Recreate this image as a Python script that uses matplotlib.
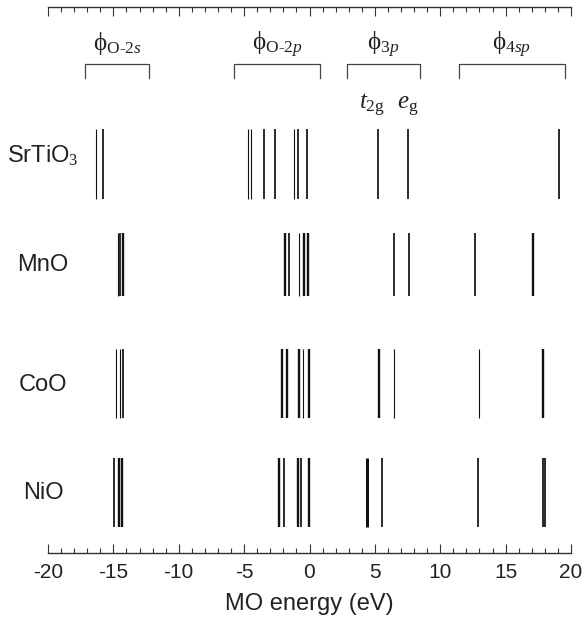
import numpy as np
import matplotlib
matplotlib.use("Agg")
from matplotlib import pyplot as plt
from matplotlib.ticker import MultipleLocator

plt.rcParams['font.family'] = ['Liberation Sans', 'DejaVu Sans']
plt.rcParams['mathtext.fontset'] = 'custom'
plt.rcParams['mathtext.rm'] = 'Liberation Serif'
plt.rcParams['mathtext.it'] = 'Liberation Serif:italic'
plt.rcParams['mathtext.fallback'] = 'stix'

# MO energies (eV) and relative degeneracy (drawn as line thickness)
compounds = ['SrTiO$_3$', 'MnO', 'CoO', 'NiO']

srtio3_e = [-16.33, -15.82, -4.68, -4.50, -3.46, -2.64, -1.19, -0.86, -0.21, 5.26, 7.51, 19.06]
srtio3_d = [1, 2, 1, 1, 2, 2, 1, 2, 2, 2, 2, 2]

mno_e = [-14.65, -14.47, -14.24, -1.87, -1.54, -0.78, -0.42, -0.09, 6.46, 7.61, 12.66, 17.12]
mno_d = [1, 2, 3, 3, 2, 1, 3, 3, 2, 2, 2, 3]

coo_e = [-14.82, -14.47, -14.29, -2.10, -1.72, -0.83, -0.52, -0.06, 5.34, 6.49, 12.96, 17.83]
coo_d = [1, 1, 2, 3, 3, 3, 1, 3, 3, 1, 1, 3]

nio_e = [-14.98, -14.55, -14.32, -2.33, -1.93, -0.88, -0.65, -0.06, 4.37, 5.55, 12.86, 17.86, 18.04]
nio_d = [2, 3, 3, 3, 2, 3, 2, 3, 4, 2, 2, 2, 2]

energies = [srtio3_e, mno_e, coo_e, nio_e]
degen = [srtio3_d, mno_d, coo_d, nio_d]

# orbital groups: label, energy range
groups = [r'$\mathrm{\phi}_{\mathrm{O}\text{-}\mathrm{2}s}$',
          r'$\mathrm{\phi}_{\mathrm{O}\text{-}\mathrm{2}p}$',
          r'$\mathrm{\phi}_{\mathrm{3}p}$',
          r'$\mathrm{\phi}_{\mathrm{4}sp}$']
group_lo = [-17.2, -5.74, 2.84, 11.45]
group_hi = [-12.24, 0.79, 8.47, 19.53]

sub_labels = [r'$t_{\mathrm{2g}}$', r'$e_{\mathrm{g}}$']
sub_pos = [4.75, 7.5]

W, H = 584, 624
fig = plt.figure(figsize=(W / 100, H / 100), dpi=100)
top, bot, left, right = 7, 553, 48, 571
ax = fig.add_axes([left / W, 1 - bot / H, (right - left) / W, (bot - top) / H])
ax.set_xlim(-20, 20)
ax.set_ylim(bot, top)  # vertical layout in pixel rows

# row vertical extents
row_top = [129, 233, 349, 458]
row_bot = [199, 296, 418, 527]
label_base = [163, 271, 391, 499]

for i in range(len(compounds)):
    for e, d in zip(energies[i], degen[i]):
        ax.vlines(e, row_top[i], row_bot[i], color='#111111', lw=0.35 + 0.45 * d)
    ax.text(-20.38, label_base[i], compounds[i], ha='center', va='baseline',
            fontsize=17, color='#222222', clip_on=False)

for lab, lo, hi in zip(groups, group_lo, group_hi):
    ax.plot([lo, lo, hi, hi], [78, 64, 64, 78], color='#444444', lw=0.9)
    ax.text((lo + hi) / 2, 50, lab, ha='center', va='baseline', fontsize=18, color='#222222')

for lab, x in zip(sub_labels, sub_pos):
    ax.text(x, 109, lab, ha='center', va='baseline', fontsize=18, color='#222222')

for s in ['left', 'right']:
    ax.spines[s].set_visible(False)
for s in ['top', 'bottom']:
    ax.spines[s].set_color('#333333')
    ax.spines[s].set_linewidth(1.0)

ax.set_yticks([])
ax.xaxis.set_major_locator(MultipleLocator(5))
ax.xaxis.set_minor_locator(MultipleLocator(1))
ax.tick_params(axis='x', which='both', direction='in', top=True, bottom=True,
               colors='#333333', labelcolor='#222222')
ax.tick_params(axis='x', which='major', length=6.5, width=0.8, labelsize=15, pad=7)
ax.tick_params(axis='x', which='minor', length=3.4, width=0.8)
ax.set_xticks(np.arange(-20, 21, 5))
ax.set_xticklabels([str(v) for v in range(-20, 21, 5)])
ax.set_xlabel('MO energy (eV)', fontsize=17, color='#222222', labelpad=8)

fig.savefig('out.png', dpi=100)
